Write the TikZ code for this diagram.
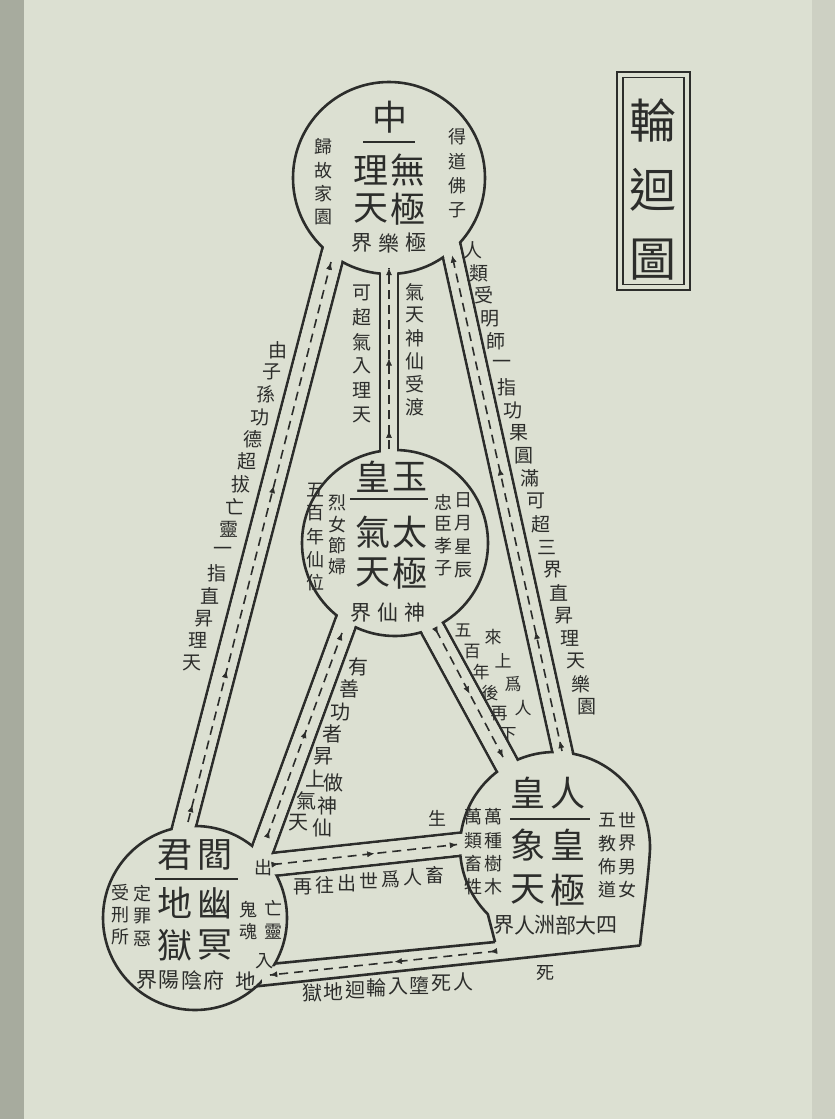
\documentclass[tikz,border=0pt]{standalone}
\usepackage{fontspec}
\newfontfamily\cjk{Noto Sans CJK TC}
\usetikzlibrary{calc,decorations.markings,arrows.meta}
\definecolor{page}{HTML}{DCE0D2}
\definecolor{edge}{HTML}{A7AB9E}
\definecolor{ink}{HTML}{2C2D2B}
\newcommand\chwalls[3]{%
  \draw[wall] ($#1!#3!90:#2$) -- ($#2!#3!-90:#1$);
  \draw[wall] ($#1!#3!-90:#2$) -- ($#2!#3!90:#1$);}
\newcommand\chgap[3]{%
  \fill[page] ($#1!#3!90:#2$) -- ($#2!#3!-90:#1$) -- ($#2!#3!90:#1$) -- ($#1!#3!-90:#2$) -- cycle;}
\newcommand\along[6]{%
  \foreach \c [count=\i from 0] in {#6} {\node[#1] (#2\i) at ($#3!{\i/#5}!#4$) {\c};}}
\begin{document}
\begin{tikzpicture}[x=1pt,y=-1pt,
  wall/.style={draw=ink,line width=2.6pt},
  flow/.style={draw=ink,line width=1.6pt,dash pattern=on 9pt off 6pt},
  mk/.style={postaction={decorate,decoration={markings,mark=at position #1 with {\arrow[solid,line width=0.6pt]{Latex[length=7pt,width=6pt]}}}}},
  rim/.style={draw=ink,line width=2.6pt,fill=page},
  rulex/.style={draw=ink,line width=2.8pt},
  big/.style={text=ink,inner sep=0pt,font=\cjk\fontsize{35}{35}\selectfont},
  mid/.style={text=ink,inner sep=0pt,font=\cjk\fontsize{21}{21}\selectfont},
  sm/.style={text=ink,inner sep=0pt,font=\cjk\fontsize{18}{18}\selectfont},
  lab/.style={text=ink,inner sep=0pt,font=\cjk\fontsize{19}{19}\selectfont},
  labb/.style={text=ink,inner sep=0pt,font=\cjk\fontsize{20}{20}\selectfont},
  labs/.style={text=ink,inner sep=0pt,font=\cjk\fontsize{17}{17}\selectfont},
  ttl/.style={text=ink,inner sep=0pt,font=\cjk\fontsize{47}{47}\selectfont},
]
\useasboundingbox (0,0) rectangle (835,1119);
\fill[edge] (0,0) rectangle (835,1119);
\fill[page] (24,0) rectangle (812,1119);
\fill[page!93!black] (812,0) rectangle (835,1119);

% centres
\coordinate (T) at (389,178);
\coordinate (M) at (395,543);
\coordinate (R) at (555,847);
\coordinate (L) at (195,918);
% channel axes
\coordinate (LA) at (339,230); \coordinate (LB) at (178,850);
\coordinate (CA) at (389,230); \coordinate (CB) at (389,480);
\coordinate (RA) at (446,225); \coordinate (RB) at (571,790);
\coordinate (PA) at (354,600); \coordinate (PB) at (255,870);
\coordinate (QA) at (417,600); \coordinate (QB) at (526,800);
\coordinate (HA) at (240,868); \coordinate (HB) at (490,841);

% layer 1: channel walls
\chwalls{(LA)}{(LB)}{11.5pt}
\chwalls{(CA)}{(CB)}{9pt}
\chwalls{(RA)}{(RB)}{10pt}
\chwalls{(PA)}{(PB)}{11pt}
\chwalls{(QA)}{(QB)}{12pt}
\chwalls{(HA)}{(HB)}{11.5pt}
\draw[wall] (260,965) -- (495,942);
\draw[wall] (250,987) -- (640,945.5);

% layer 2/3: circles
\node[rim,circle,minimum size=192pt,inner sep=0pt] (topc) at (T) {};
\node[rim,circle,minimum size=186pt,inner sep=0pt] (midc) at (M) {};
\node[rim,circle,minimum size=184pt,inner sep=0pt] (blc) at (L) {};
\fill[page] ($(R)+(135:95)$) arc[start angle=135,end angle=365,radius=95]
   .. controls (647,890) and (642,925) .. (640,944) -- (495,942) -- cycle;
\draw[wall] (495,942) -- ($(R)+(135:95)$) arc[start angle=135,end angle=365,radius=95]
   .. controls (647,890) and (642,925) .. (640,945.5);

% layer 4: openings
\chgap{(LA)}{(LB)}{10.1pt}
\chgap{(CA)}{(CB)}{7.6pt}
\chgap{(RA)}{(RB)}{8.6pt}
\chgap{(PA)}{(PB)}{9.6pt}
\chgap{(QA)}{(QB)}{10.6pt}
\chgap{(HA)}{(HB)}{10.1pt}
\fill[page] (262,967.5) -- (493,945) -- (493,958.5) -- (262,983.5) -- cycle;

% flows
\coordinate (f1a) at (188,822); \coordinate (f1b) at (331,262);
\coordinate (f2a) at (389,449); \coordinate (f2b) at (389,268);
\coordinate (f3a) at (562,751); \coordinate (f3b) at (452,255);
\coordinate (f4a) at (267,837); \coordinate (f4b) at (342,633);
\coordinate (f5a) at (436,630); \coordinate (f5b) at (503,757);
\coordinate (f6a) at (273,864.5); \coordinate (f6b) at (457,844.5);
\coordinate (f7a) at (497,951); \coordinate (f7b) at (270,975);
\draw[flow,mk=0.03,mk=0.27,mk=0.6,mk=0.999] (f1a) -- (f1b);
\draw[flow,mk=0.1,mk=0.5,mk=0.999] (f2a) -- (f2b);
\draw[flow,mk=0.02,mk=0.24,mk=0.57,mk=0.999] (f3a) -- (f3b);
\draw[flow,mk=0.03,mk=0.52,mk=0.999] (f4a) -- (f4b);
\draw[flow,mk=0.03,mk=0.5,mk=0.999] (f5a) -- (f5b);
\draw[flow,mk=0.03,mk=0.55,mk=0.999] (f6a) -- (f6b);
\draw[flow,mk=0.03,mk=0.45,mk=0.999] (f7a) -- (f7b);

% title
\node[draw=ink,line width=2.2pt,minimum width=73pt,minimum height=218pt,inner sep=0pt] (tbox) at (653.5,181) {};
\node[draw=ink,line width=1.2pt,minimum width=61pt,minimum height=207pt,inner sep=0pt] (tinner) at (653.5,181) {};
\node[ttl] (title1) at (653,120) {輪};
\node[ttl] (title2) at (653,190) {迴};
\node[ttl] (title3) at (653,260) {圖};

% top circle
\node[big] (a0) at (390,117) {中};
\draw[rulex] (363,142) -- (415,142);
\node[big] (a1) at (371,170) {理}; \node[big] (a2) at (408,170) {無};
\node[big] (a3) at (371,209) {天}; \node[big] (a4) at (408,209) {極};
\along{mid}{ab}{(362,243)}{(416,243)}{2}{界,樂,極}
\along{sm}{al}{(323,147)}{(323,217)}{3}{歸,故,家,園}
\along{sm}{ar}{(457,137)}{(457,210)}{3}{得,道,佛,子}

% middle circle
\node[big] (b1) at (373,477) {皇}; \node[big] (b2) at (410,477) {玉};
\draw[rulex] (350,499) -- (428,499);
\node[big] (b3) at (373,532) {氣}; \node[big] (b4) at (410,532) {太};
\node[big] (b5) at (373,573) {天}; \node[big] (b6) at (410,573) {極};
\along{mid}{bb}{(361,613)}{(415,613)}{2}{界,仙,神}
\along{sm}{bl}{(315,490)}{(315,583)}{4}{五,百,年,仙,位}
\along{sm}{bm}{(337,503)}{(337,567)}{3}{烈,女,節,婦}
\along{sm}{bn}{(443,502)}{(443,568)}{3}{忠,臣,孝,子}
\along{sm}{bo}{(463,500)}{(463,570)}{3}{日,月,星,辰}

% bottom-right circle
\node[big] (c1) at (528,793) {皇}; \node[big] (c2) at (568,793) {人};
\draw[rulex] (510,819) -- (590,819);
\node[big] (c3) at (528,845) {象}; \node[big] (c4) at (568,845) {皇};
\node[big] (c5) at (528,890) {天}; \node[big] (c6) at (568,890) {極};
\along{mid}{cb}{(504,925)}{(607,925)}{5}{界,人,洲,部,大,四}
\along{sm}{cl}{(473,817)}{(473,887)}{3}{萬,類,畜,牲}
\along{sm}{cm}{(493,817)}{(493,887)}{3}{萬,種,樹,木}
\along{sm}{cn}{(607,820)}{(607,890)}{3}{五,教,佈,道}
\along{sm}{co}{(627,820)}{(627,890)}{3}{世,界,男,女}

% bottom-left circle
\node[big] (d1) at (175,855) {君}; \node[big] (d2) at (215,855) {閻};
\draw[rulex] (155,879) -- (238,879);
\node[big] (d3) at (175,903) {地}; \node[big] (d4) at (215,903) {幽};
\node[big] (d5) at (175,945) {獄}; \node[big] (d6) at (215,945) {冥};
\along{mid}{db}{(147,980)}{(214,980)}{3}{界,陽,陰,府}
\node[mid] (db4) at (246,981) {地};
\along{sm}{dl}{(120,893)}{(120,937)}{2}{受,刑,所}
\along{sm}{dm}{(142,894)}{(142,939)}{2}{定,罪,惡}
\along{sm}{dn}{(248,910)}{(248,932)}{1}{鬼,魂}
\along{sm}{do}{(273,908)}{(273,932)}{1}{亡,靈}

% small markers
\node[sm] (chu) at (263,868) {出};
\node[sm] (ru) at (264,961) {入};
\node[sm] (sheng) at (437,818) {生};
\node[sm] (si) at (545,973) {死};

% channel labels
\along{lab}{ll}{(278,350)}{(192,663)}{14}{由,子,孫,功,德,超,拔,亡,靈,一,指,直,昇,理,天}
\along{lab}{cl}{(362,293)}{(362,415)}{5}{可,超,氣,入,理,天}
\along{lab}{cr}{(415,292)}{(415,407)}{5}{氣,天,神,仙,受,渡}
\along{lab}{rr}{(473,250)}{(587,707)}{20}{人,類,受,明,師,一,指,功,果,圓,滿,可,超,三,界,直,昇,理,天,樂,園}
\along{labb}{pa}{(358,667)}{(298,823)}{7}{有,善,功,者,昇,上,氣,天}
\along{labb}{pb}{(333,783)}{(322,828)}{2}{做,神,仙}
\along{labs}{qa}{(493,637)}{(523,708)}{3}{來,上,爲,人}
\along{labs}{qb}{(463,630)}{(508,735)}{5}{五,百,年,後,再,下}
\along{lab}{ha}{(303,887)}{(435,875)}{6}{再,往,出,世,爲,人,畜}
\along{labb}{ka}{(312,993)}{(463,982)}{7}{獄,地,迴,輪,入,墮,死,人}
\end{tikzpicture}
\end{document}
